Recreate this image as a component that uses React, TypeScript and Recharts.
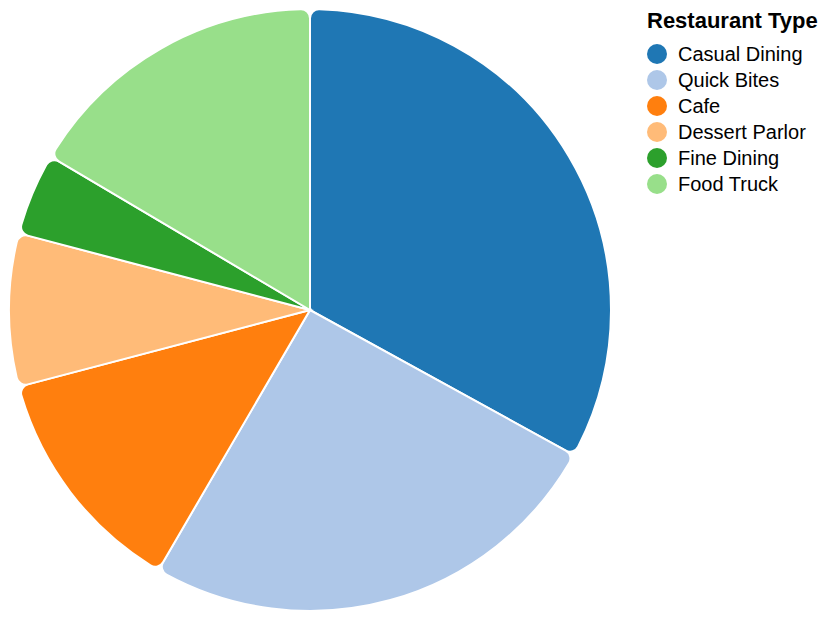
import { PieChart, Pie, Cell, Legend } from "recharts";

// ================= DATA =================
const categories = [
  "Casual Dining",
  "Quick Bites",
  "Cafe",
  "Dessert Parlor",
  "Fine Dining",
  "Food Truck",
];
const shares = [33, 25.4, 12.5, 8.2, 4.4, 16.5];
const colors = ["#1f77b4", "#aec7e8", "#ff7f0e", "#ffbb78", "#2ca02c", "#98df8a"];

const data = categories.map((name, i) => ({ name, value: shares[i] }));

// ================= LEGEND =================
function RestaurantLegend() {
  return (
    <div style={{ fontFamily: "Arial, 'Liberation Sans', sans-serif", color: "#000" }}>
      <div style={{ fontWeight: 700, fontSize: 22, lineHeight: "26px", marginBottom: 7 }}>
        Restaurant Type
      </div>
      {categories.map((name, i) => (
        <div
          key={name}
          style={{ display: "flex", alignItems: "center", height: 26 }}
        >
          <span
            style={{
              width: 20,
              height: 20,
              borderRadius: "50%",
              backgroundColor: colors[i],
              marginRight: 11,
            }}
          />
          <span style={{ fontSize: 20 }}>{name}</span>
        </div>
      ))}
    </div>
  );
}

export default function App() {
  return (
    <div style={{ position: "absolute", left: 0, top: 0, width: 828, height: 620, background: "#fff" }}>
      <PieChart width={828} height={620} margin={{ top: 0, right: 0, bottom: 0, left: 0 }}>
        <Pie
          data={data}
          dataKey="value"
          nameKey="name"
          cx={310}
          cy={310}
          outerRadius={301}
          innerRadius={0}
          startAngle={90}
          endAngle={-270}
          cornerRadius={9}
          stroke="#fff"
          strokeWidth={2}
          isAnimationActive={false}
        >
          {data.map((entry, i) => (
            <Cell key={entry.name} fill={colors[i]} />
          ))}
        </Pie>
        <Legend
          content={<RestaurantLegend />}
          wrapperStyle={{ position: "absolute", left: 647, top: 8, width: 181 }}
        />
      </PieChart>
    </div>
  );
}
